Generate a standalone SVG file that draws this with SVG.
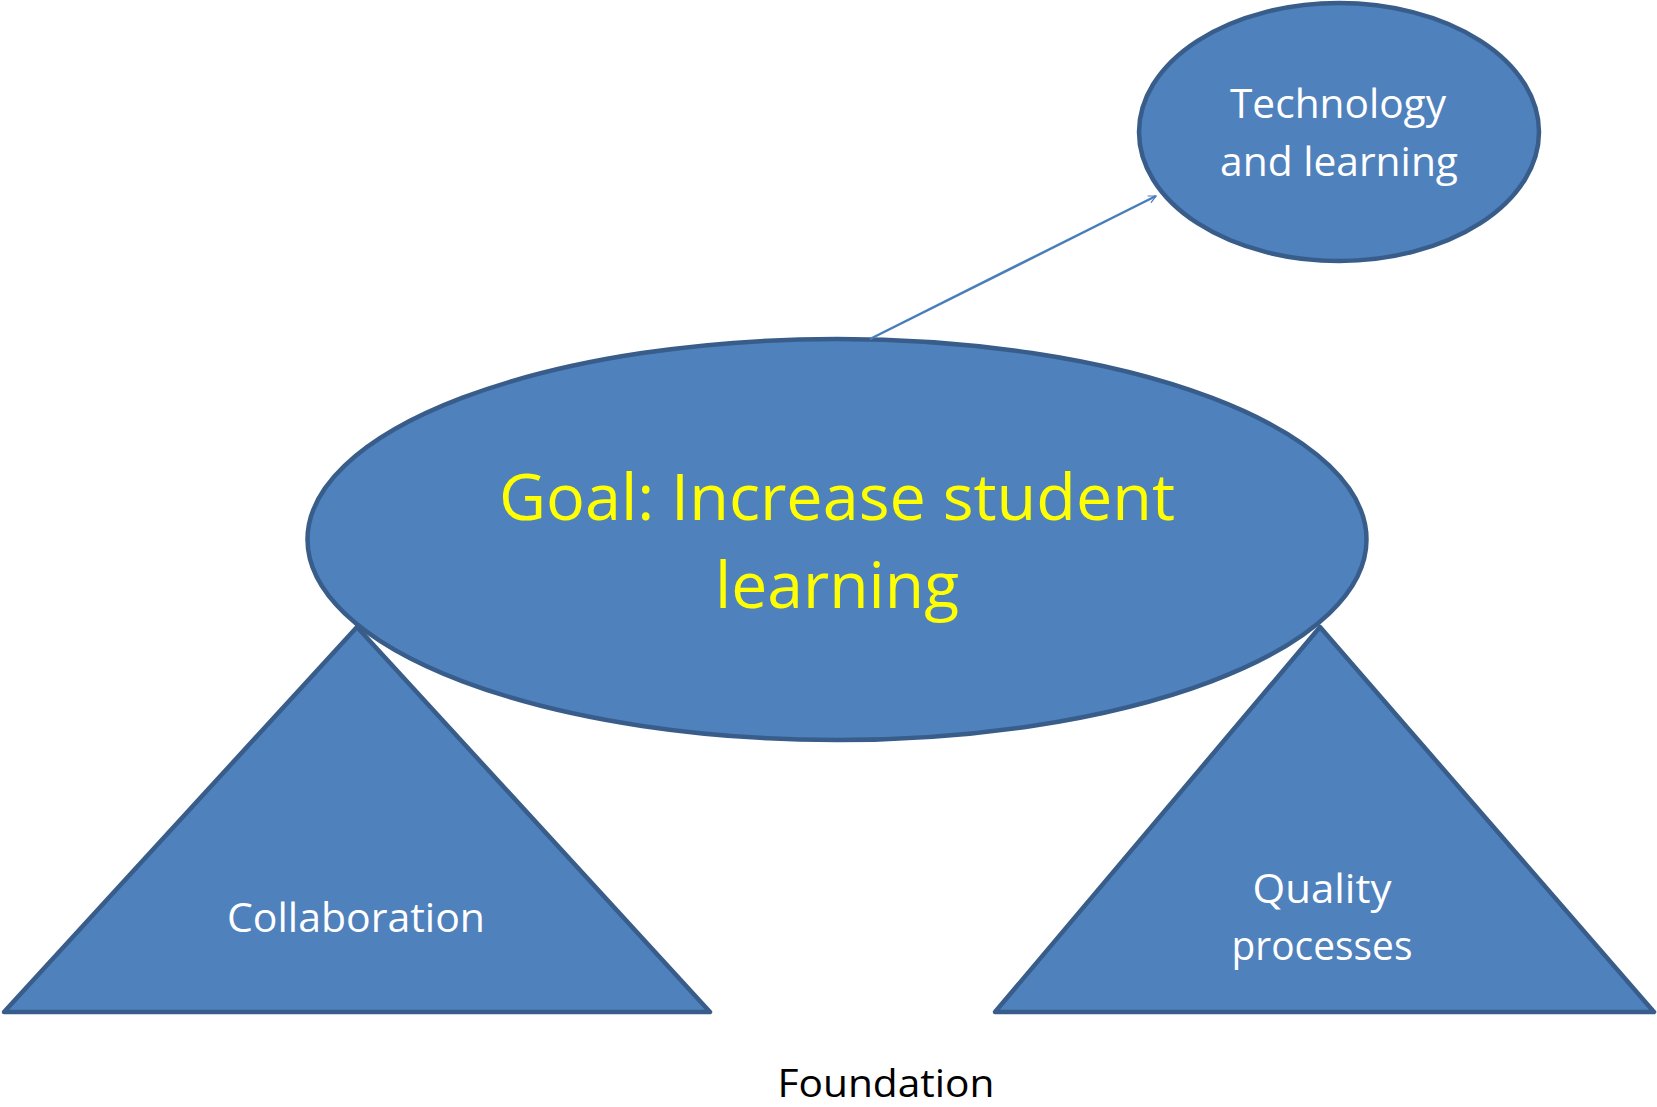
<svg xmlns="http://www.w3.org/2000/svg" width="1657" height="1107" viewBox="0 0 1657 1107">
  <style>
    .shape { fill: #4F81BD; stroke: #385D8A; stroke-width: 4.5; stroke-linejoin: round; }
    .label { font-family: "Open Sans", "Noto Sans", "Liberation Sans", sans-serif; text-anchor: middle; }
    .white { fill: #FFFFFF; font-size: 41px; }
    .goal { fill: #FFFF00; font-size: 64px; }
    .plain { fill: #000000; font-size: 38px; }
    .link { stroke: #4A7EBB; stroke-width: 2.5; fill: none; }
  </style>
  <defs>
    <marker id="open-arrow" viewBox="0 0 12 12" refX="11" refY="6" markerWidth="9" markerHeight="9" markerUnits="userSpaceOnUse" orient="auto">
      <path d="M1,1 L11,6 L1,11" fill="none" stroke="#4A7EBB" stroke-width="1.6"/>
    </marker>
  </defs>
  <rect width="1657" height="1107" fill="#FFFFFF"/>

  <!-- pillars -->
  <g id="collaboration">
    <polygon class="shape" points="357,627 710,1012 4,1012"/>
    <text class="label white" x="356" y="932" textLength="258" lengthAdjust="spacingAndGlyphs">Collaboration</text>
  </g>
  <g id="quality-processes">
    <polygon class="shape" points="1320,627 1654,1012 995,1012"/>
    <text class="label white" x="1322" y="903" textLength="139" lengthAdjust="spacingAndGlyphs">Quality</text>
    <text class="label white" x="1322" y="960" textLength="181" lengthAdjust="spacingAndGlyphs">processes</text>
  </g>

  <!-- central goal -->
  <g id="goal">
    <ellipse class="shape" cx="837" cy="539.5" rx="529.5" ry="200.5"/>
    <text class="label goal" x="837" y="520" textLength="676" lengthAdjust="spacingAndGlyphs">Goal: Increase student</text>
    <text class="label goal" x="837" y="608" textLength="244" lengthAdjust="spacingAndGlyphs">learning</text>
  </g>

  <g id="technology">
    <ellipse class="shape" cx="1339" cy="132" rx="200" ry="129"/>
    <text class="label white" x="1338" y="118" textLength="216" lengthAdjust="spacingAndGlyphs">Technology</text>
    <text class="label white" x="1339" y="176" textLength="238" lengthAdjust="spacingAndGlyphs">and learning</text>
  </g>

  <g id="foundation">
    <text class="label plain" x="886" y="1097" textLength="217" lengthAdjust="spacingAndGlyphs">Foundation</text>
  </g>

  <!-- connectors -->
  <g id="connectors">
    <line class="link" x1="870" y1="339" x2="1156" y2="196" marker-end="url(#open-arrow)"/>
  </g>
</svg>
